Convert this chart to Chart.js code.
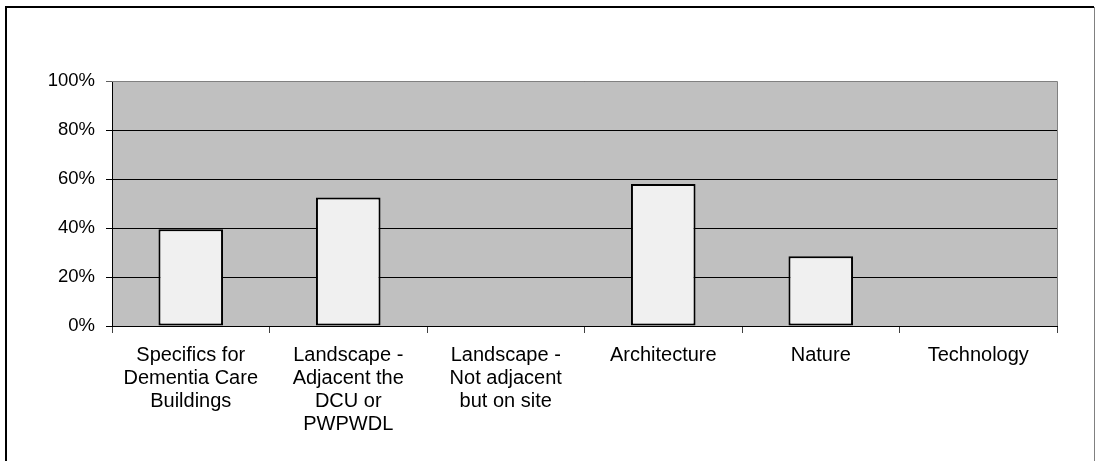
<!DOCTYPE html>
<html>
<head>
<meta charset="utf-8">
<script src="https://cdn.jsdelivr.net/npm/chart.js@4"></script>
<style>
html,body{margin:0;padding:0;background:#fff;}
#wrap{position:relative;width:1095px;height:461px;}
</style>
</head>
<body>
<div id="wrap"><canvas id="c" width="1095" height="461"></canvas></div>
<script>
const categories = [
  ["Specifics for", "Dementia Care", "Buildings"],
  ["Landscape -", "Adjacent the", "DCU or", "PWPWDL"],
  ["Landscape -", "Not adjacent", "but on site"],
  ["Architecture"],
  ["Nature"],
  ["Technology"]
];
const values = [39.5, 52.5, 0, 58, 28.5, 0];
const yTicks = [0, 20, 40, 60, 80, 100];

const framePlugin = {
  id: 'frame',
  beforeDraw(chart) {
    const ctx = chart.ctx, a = chart.chartArea;
    ctx.save();
    ctx.fillStyle = '#ffffff';
    ctx.fillRect(0, 0, chart.width, chart.height);
    ctx.fillStyle = '#C0C0C0';
    ctx.fillRect(a.left, a.top, a.right - a.left, a.bottom - a.top);
    ctx.restore();
  },
  afterDraw(chart) {
    const ctx = chart.ctx, a = chart.chartArea;
    ctx.save();
    ctx.strokeStyle = '#808080';
    ctx.lineWidth = 1;
    ctx.beginPath();
    ctx.moveTo(a.left, a.top + 0.5);
    ctx.lineTo(a.right + 0.5, a.top + 0.5);
    ctx.lineTo(a.right + 0.5, a.bottom);
    ctx.stroke();
    // outer frame
    ctx.strokeStyle = '#000';
    ctx.lineWidth = 2;
    ctx.beginPath();
    ctx.moveTo(6, chart.height + 2);
    ctx.lineTo(6, 7);
    ctx.lineTo(1094, 7);
    ctx.stroke();
    ctx.strokeStyle = '#808080';
    ctx.lineWidth = 1;
    ctx.beginPath();
    ctx.moveTo(1094.5, 7);
    ctx.lineTo(1094.5, chart.height + 2);
    ctx.stroke();
    ctx.restore();
  }
};

new Chart(document.getElementById('c'), {
  type: 'bar',
  data: {
    labels: categories,
    datasets: [{
      data: values,
      backgroundColor: '#F0F0F0',
      borderColor: '#000000',
      borderWidth: 2,
      borderSkipped: false,
      categoryPercentage: 1,
      barPercentage: 0.41
    }]
  },
  options: {
    responsive: false,
    animation: false,
    events: [],
    layout: { padding: { left: 0, top: 81, right: 38, bottom: 0 } },
    plugins: { legend: { display: false }, tooltip: { enabled: false }, title: { display: false } },
    scales: {
      x: {
        afterFit(axis) { axis.height = 135; },
        grid: { display: true, drawOnChartArea: false, drawTicks: true, tickLength: 7, color: '#404040', offset: true },
        border: { display: true, color: '#000', width: 1 },
        ticks: {
          color: '#000', padding: 11, maxRotation: 0, minRotation: 0, autoSkip: false,
          font: { family: '"Liberation Sans", Arial, sans-serif', size: 20, lineHeight: '23px' }
        }
      },
      y: {
        min: 0, max: 100,
        afterFit(axis) { axis.width = 112; },
        afterBuildTicks(axis) { axis.ticks = yTicks.map(v => ({ value: v })); },
        grid: {
          drawTicks: true, tickLength: 6,
          color: ctx => (ctx.tick && ctx.tick.value === 100) ? '#606060' : '#000000',
          lineWidth: 1
        },
        border: { display: true, color: '#000', width: 1 },
        ticks: {
          color: '#000', padding: 11,
          callback: v => v + '%',
          font: { family: '"Liberation Sans", Arial, sans-serif', size: 18.5 }
        }
      }
    }
  },
  plugins: [framePlugin]
});
</script>
</body>
</html>
